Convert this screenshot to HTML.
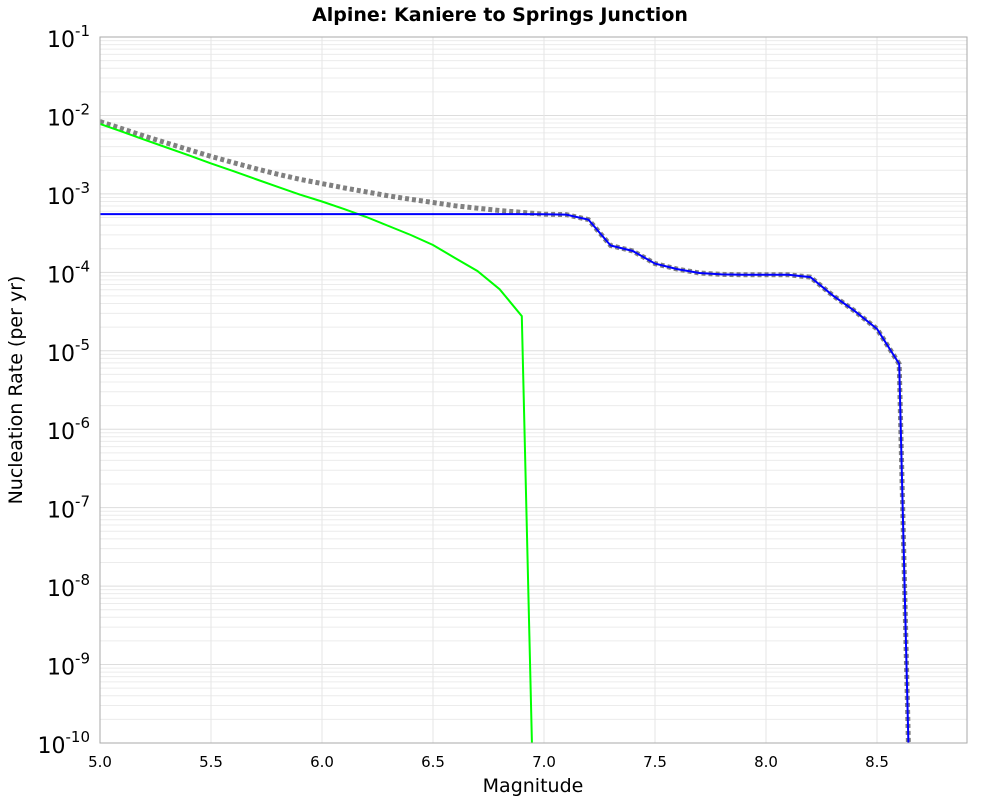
<!DOCTYPE html>
<html><head><meta charset="utf-8"><style>
body{margin:0;background:#fff;font-family:"Liberation Sans","DejaVu Sans",sans-serif;}
</style></head><body>
<svg id="chart" width="1000" height="800" xmlns="http://www.w3.org/2000/svg" font-family="DejaVu Sans, Liberation Sans, sans-serif">
<text x="500" y="21" text-anchor="middle" font-size="19" font-weight="bold">Alpine: Kaniere to Springs Junction</text>
<text x="533" y="792" text-anchor="middle" font-size="19">Magnitude</text>
<text transform="translate(22,390) rotate(-90)" text-anchor="middle" font-size="19">Nucleation Rate (per yr)</text>
<defs><clipPath id="pc"><rect x="100" y="37" width="867" height="706"/></clipPath></defs>
<g id="grid"></g>
<g id="series" clip-path="url(#pc)"></g>
<rect x="100" y="37" width="867" height="706" fill="none" stroke="#aaa" stroke-width="1"/>
<g id="ticks"></g>
</svg>
<script>
const blueMag=[5.0,5.1,5.2,5.3,5.4,5.5,5.6,5.7,5.8,5.9,6.0,6.1,6.2,6.3,6.4,6.5,6.6,6.7,6.8,6.9,7.0,7.1,7.2,7.3,7.4,7.5,7.6,7.7,7.8,7.9,8.0,8.1,8.2,8.3,8.4,8.5,8.6,8.65];
const blueRate=[5.53e-4,5.53e-4,5.53e-4,5.53e-4,5.53e-4,5.53e-4,5.53e-4,5.53e-4,5.53e-4,5.53e-4,5.53e-4,5.53e-4,5.53e-4,5.53e-4,5.53e-4,5.53e-4,5.53e-4,5.53e-4,5.53e-4,5.53e-4,5.5e-4,5.45e-4,4.7e-4,2.2e-4,1.87e-4,1.29e-4,1.1e-4,9.8e-5,9.4e-5,9.3e-5,9.3e-5,9.3e-5,8.7e-5,5.1e-5,3.2e-5,1.9e-5,6.8e-6,1e-11];
const greenMag=[5.0,5.1,5.2,5.3,5.4,5.5,5.6,5.7,5.8,5.9,6.0,6.1,6.2,6.3,6.4,6.5,6.6,6.7,6.8,6.9,6.95];
const greenRate=[7.8e-3,6.2e-3,4.9e-3,3.9e-3,3.1e-3,2.45e-3,1.95e-3,1.55e-3,1.23e-3,9.8e-4,8.0e-4,6.4e-4,5.07e-4,3.9e-4,2.99e-4,2.23e-4,1.52e-4,1.04e-4,6.1e-5,2.77e-5,3e-11];
const xTicks=[5.0,5.5,6.0,6.5,7.0,7.5,8.0,8.5];
const yExps=[-1,-2,-3,-4,-5,-6,-7,-8,-9,-10];
const X=m=>100+(m-5.0)*222;
const Y=v=>37+(-1-Math.log10(v))*78.44;
const NS="http://www.w3.org/2000/svg";
function mk(t,a,p){const e=document.createElementNS(NS,t);for(const k in a)e.setAttribute(k,a[k]);p.appendChild(e);return e;}
const grid=document.getElementById('grid'),ticks=document.getElementById('ticks'),series=document.getElementById('series');
for(let d=-10;d<-1;d++){for(let k=1;k<10;k++){const y=Y(k*Math.pow(10,d));
const l=mk('line',{x1:100,x2:967,y1:y,y2:y,stroke:k==1?'#ddd':'#ececec','stroke-width':1},grid);

}}
xTicks.forEach(m=>{const l=mk('line',{x1:X(m),x2:X(m),y1:37,y2:743,stroke:'#e6e6e6','stroke-width':1},grid);


const t=mk('text',{x:X(m),y:767,'text-anchor':'middle','font-size':15},ticks);t.textContent=m.toFixed(1);

});
yExps.forEach(e=>{const y=Y(Math.pow(10,e));const t=mk('text',{x:90,y:y+10,'text-anchor':'end','font-size':22},ticks);
t.innerHTML='10<tspan dy="-11" font-size="15">'+e+'</tspan>';

});
// total = blue + green
const totalRate=blueMag.map((m,i)=>{const gi=greenMag.findIndex(g=>Math.abs(g-m)<1e-9);return blueRate[i]+(gi>=0?greenRate[gi]:0);});
const pts=(xs,ys)=>xs.map((m,i)=>X(m).toFixed(1)+','+Y(ys[i]).toFixed(1)).join(' ');
const gray=mk('polyline',{points:pts(blueMag,totalRate),fill:'none',stroke:'#808080','stroke-width':5,'stroke-dasharray':'4,3'},series);


const green=mk('polyline',{points:pts(greenMag,greenRate),fill:'none',stroke:'#00ff00','stroke-width':2},series);


const blue=mk('polyline',{points:pts(blueMag,blueRate),fill:'none',stroke:'#0000ff','stroke-width':2},series);


</script>
</body></html>
